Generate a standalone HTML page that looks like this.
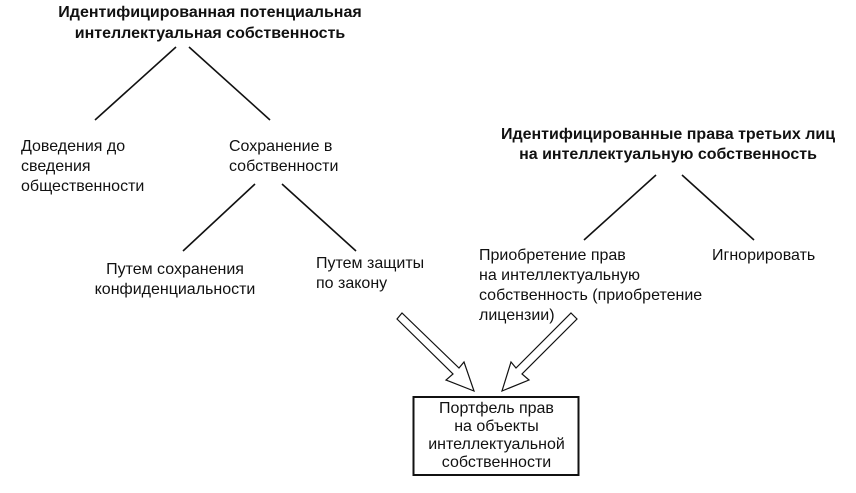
<!DOCTYPE html>
<html><head><meta charset="utf-8"><style>
body{margin:0;width:856px;height:493px;background:#fff;position:relative;overflow:hidden;font-family:"Liberation Sans",Arial,sans-serif;font-size:16px;color:#111;}
.t{position:absolute;line-height:20px;white-space:nowrap}
.b{font-weight:bold}
.c{text-align:center}
</style></head><body>
<svg width="856" height="493" style="position:absolute;left:0;top:0">
<g stroke="#111" stroke-width="1.6" fill="none">
<line x1="176" y1="47" x2="95" y2="120"/>
<line x1="189" y1="47" x2="270" y2="120"/>
<line x1="255" y1="184" x2="183" y2="251"/>
<line x1="282" y1="184" x2="356" y2="251"/>
<line x1="656" y1="175" x2="584" y2="240"/>
<line x1="682" y1="175" x2="754" y2="240"/>
</g>
<g stroke="#111" stroke-width="1.2" fill="#fff">
<polygon points="397,319 402,313 459,368 464,362 474,391 446,380 453,374"/>
<polygon points="571,313 577,319 522,374 529,380 502,391 511,362 516,368"/>
</g>
<rect x="413.5" y="397" width="165" height="78" fill="#fff" stroke="#111" stroke-width="2"/>
</svg>
<div class="t b c" style="left:40px;top:2px;width:340px;line-height:21px">Идентифицированная потенциальная<br>интеллектуальная собственность</div>
<div class="t" style="left:21px;top:137px">Доведения до<br>сведения<br>общественности</div>
<div class="t" style="left:229px;top:137px">Сохранение в<br>собственности</div>
<div class="t b c" style="left:480px;top:125px;width:376px">Идентифицированные права третьих лиц<br>на интеллектуальную собственность</div>
<div class="t c" style="left:60px;top:260px;width:230px">Путем сохранения<br>конфиденциальности</div>
<div class="t" style="left:316px;top:254px">Путем защиты<br>по закону</div>
<div class="t" style="left:479px;top:246px">Приобретение прав<br>на интеллектуальную<br>собственность (приобретение<br>лицензии)</div>
<div class="t" style="left:712px;top:246px">Игнорировать</div>
<div class="t c" style="left:414px;top:400px;width:165px;line-height:18px">Портфель прав<br>на объекты<br>интеллектуальной<br>собственности</div>
</body></html>
